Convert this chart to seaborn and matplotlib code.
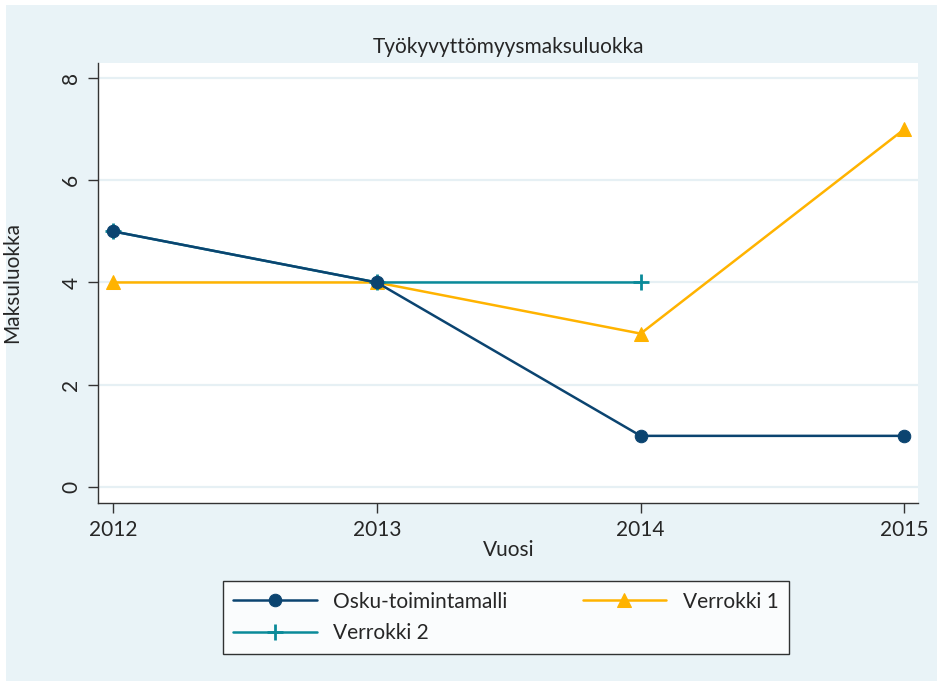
import matplotlib
matplotlib.use("Agg")
import matplotlib.pyplot as plt
import numpy as np
import pandas as pd
import seaborn as sns
from matplotlib.patches import Rectangle

# data
years = [2012, 2013, 2014, 2015]
osku = [5, 4, 1, 1]
verrokki1 = [4, 4, 3, 7]
verrokki2_years = [2012, 2013, 2014]
verrokki2 = [5, 4, 4]
y_ticks = [0, 2, 4, 6, 8]

NAVY = '#0b4470'
ORANGE = '#ffb300'
TEAL = '#0a8a99'
BG = '#e9f3f7'
GRID = '#e6f0f4'
FS = 15

sns.set_theme(style='white')
plt.rcParams['font.family'] = ['Lato', 'DejaVu Sans']

fig = plt.figure(figsize=(9.42, 6.86), dpi=100)
fig.patch.set_facecolor('white')
# light blue outer region (Stata-like graph region)
fig.patches.append(Rectangle((0.006, 0.008), 0.989, 0.985, transform=fig.transFigure,
                             facecolor=BG, edgecolor='none', zorder=-10))

ax = fig.add_axes([0.104, 0.267, 0.871, 0.641])
ax.set_facecolor('white')

df1 = pd.DataFrame({'year': years, 'value': osku})
df2 = pd.DataFrame({'year': years, 'value': verrokki1})
df3 = pd.DataFrame({'year': verrokki2_years, 'value': verrokki2})

sns.lineplot(data=df1, x='year', y='value', ax=ax, color=NAVY, lw=1.8,
             marker='o', markersize=9, markeredgecolor=NAVY, label='Osku-toimintamalli',
             zorder=3)
sns.lineplot(data=df2, x='year', y='value', ax=ax, color=ORANGE, lw=1.8,
             marker='^', markersize=10, markeredgecolor=ORANGE, label='Verrokki 1',
             zorder=2)
sns.lineplot(data=df3, x='year', y='value', ax=ax, color=TEAL, lw=1.8,
             marker='+', markersize=11, markeredgewidth=2, markeredgecolor=TEAL,
             label='Verrokki 2', zorder=2.5)

ax.set_xlim(2011.943, 2015.053)
ax.set_ylim(-0.31, 8.29)
ax.set_xticks(years)
ax.set_xticklabels([str(y) for y in years], fontsize=FS)
ax.set_yticks(y_ticks)
ax.set_yticklabels([str(t) for t in y_ticks], fontsize=FS, rotation=90, va='center')
ax.grid(axis='y', color=GRID, lw=1.6)
ax.grid(axis='x', visible=False)
ax.set_axisbelow(True)

for s in ['top', 'right']:
    ax.spines[s].set_visible(False)
for s in ['left', 'bottom']:
    ax.spines[s].set_color('#333333')
    ax.spines[s].set_linewidth(1.0)
ax.tick_params(axis='both', direction='out', length=7, width=1, color='#333333',
               left=True, bottom=True, pad=5)

ax.set_xlabel('Vuosi', fontsize=FS, labelpad=0)
ax.set_ylabel('Maksuluokka', fontsize=FS, labelpad=28)
ax.set_title('Työkyvyttömyysmaksuluokka', fontsize=FS, pad=7)

handles, labels = ax.get_legend_handles_labels()
ax.get_legend().remove()
order = [0, 2, 1]
leg = fig.legend([handles[i] for i in order], [labels[i] for i in order],
                 ncol=2, loc='center', bbox_to_anchor=(0.537, 0.1),
                 fontsize=FS, frameon=True, fancybox=False, handlelength=4.0,
                 handletextpad=0.8, columnspacing=3.6, borderpad=0.5,
                 labelspacing=0.55)
leg.get_frame().set_edgecolor('black')
leg.get_frame().set_linewidth(1.0)
leg.get_frame().set_facecolor('white')

fig.savefig('out.png', dpi=100, facecolor=fig.get_facecolor())
